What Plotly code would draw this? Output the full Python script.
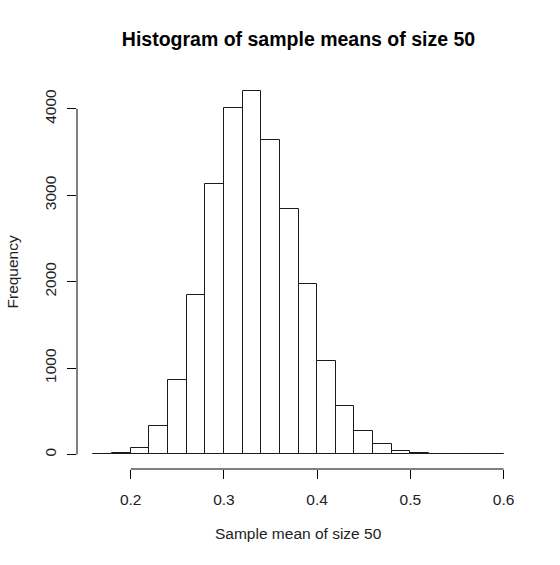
import plotly.graph_objects as go

# Histogram data (bin edges of width 0.02 from 0.16 to 0.60)
bin_left = [0.16, 0.18, 0.20, 0.22, 0.24, 0.26, 0.28, 0.30, 0.32, 0.34, 0.36,
            0.38, 0.40, 0.42, 0.44, 0.46, 0.48, 0.50, 0.52, 0.54, 0.56, 0.58]
bin_width = 0.02
counts = [5, 20, 80, 330, 865, 1840, 3125, 4015, 4212, 3640, 2845,
          1968, 1086, 565, 268, 116, 42, 18, 7, 4, 2, 2]

x_ticks = [0.2, 0.3, 0.4, 0.5, 0.6]
x_tick_labels = ["0.2", "0.3", "0.4", "0.5", "0.6"]
y_ticks = [0, 1000, 2000, 3000, 4000]
y_tick_labels = ["0", "1000", "2000", "3000", "4000"]

title = "Histogram of sample means of size 50"
x_title = "Sample mean of size 50"
y_title = "Frequency"

FONT = "Liberation Sans, Arial, Helvetica, sans-serif"
TXT = 15.5

xmin = bin_left[0]
xmax = bin_left[-1] + bin_width
xr = xmax - xmin
ymax = max(counts)

fig = go.Figure()
fig.add_trace(go.Bar(
    x=bin_left,
    y=counts,
    width=[bin_width] * len(counts),
    offset=0,
    marker=dict(color="white", line=dict(color="#1a1a1a", width=1)),
    hoverinfo="x+y",
))

fig.update_layout(
    width=560, height=565,
    margin=dict(l=77, r=40, t=76, b=96),
    paper_bgcolor="white",
    plot_bgcolor="white",
    showlegend=False,
    bargap=0,
    font=dict(family=FONT, color="black", size=TXT),
    title=dict(
        text="<b>" + title + "</b>",
        x=0.5, xref="paper", xanchor="center",
        y=1 - 39.5 / 565, yref="container", yanchor="middle",
        font=dict(family=FONT, size=19.5, color="black"),
    ),
    xaxis=dict(
        range=[xmin - 0.04 * xr, xmax + 0.04 * xr],
        tickvals=x_ticks, ticktext=x_tick_labels,
        ticks="outside", ticklen=9, tickwidth=1, tickcolor="black",
        showline=False, showgrid=False, zeroline=False,
        ticklabelstandoff=7,
        tickfont=dict(family=FONT, size=TXT, color="#222"),
        fixedrange=True,
    ),
    yaxis=dict(
        range=[-0.04 * ymax, ymax * 1.04],
        tickvals=y_ticks, ticktext=y_tick_labels,
        ticks="outside", ticklen=9, tickwidth=1, tickcolor="black",
        tickangle=-90,
        showline=False, showgrid=False, zeroline=False,
        ticklabelstandoff=5,
        tickfont=dict(family=FONT, size=TXT, color="#222"),
        fixedrange=True,
    ),
    shapes=[
        dict(type="line", xref="x", yref="paper",
             x0=x_ticks[0], x1=x_ticks[-1], y0=0, y1=0,
             line=dict(color="black", width=1)),
        dict(type="line", xref="paper", yref="y",
             x0=0, x1=0, y0=y_ticks[0], y1=y_ticks[-1],
             line=dict(color="black", width=1)),
    ],
    annotations=[
        dict(text=x_title, xref="paper", yref="paper", x=0.5, y=0,
             xanchor="center", yanchor="middle", yshift=-64, showarrow=False,
             font=dict(family=FONT, size=TXT, color="#222")),
        dict(text=y_title, xref="paper", yref="paper", x=0, y=0.5,
             xanchor="center", yanchor="middle", xshift=-65, textangle=-90,
             showarrow=False, font=dict(family=FONT, size=TXT, color="#222")),
    ],
)

fig.write_html("out.html")
